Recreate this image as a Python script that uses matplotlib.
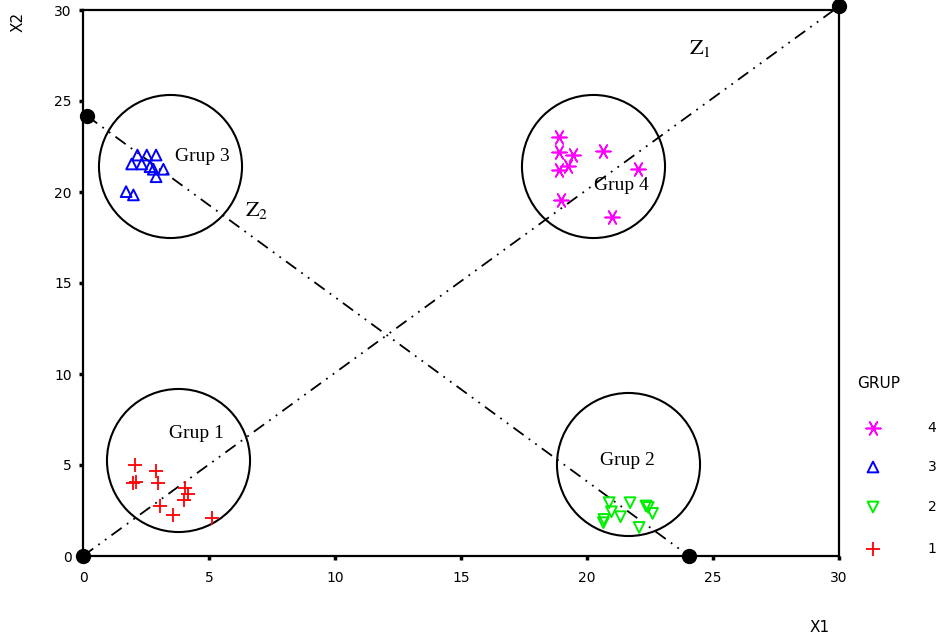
import matplotlib
matplotlib.use("Agg")
import matplotlib.pyplot as plt

plt.rcParams['mathtext.fontset'] = 'stix'

# Data
g1_x = [2.06, 2.88, 2.10, 2.00, 2.96, 4.05, 4.18, 4.02, 3.06, 3.56, 5.10]
g1_y = [5.00, 4.69, 4.08, 4.03, 3.99, 3.72, 3.39, 3.08, 2.75, 2.25, 2.07]
g2_x = [20.88, 21.71, 22.34, 22.43, 20.97, 22.60, 21.33, 20.67, 20.65, 22.07]
g2_y = [2.93, 2.93, 2.75, 2.67, 2.43, 2.34, 2.16, 2.01, 1.83, 1.57]
g3_x = [2.16, 2.53, 2.90, 1.93, 2.33, 2.66, 2.79, 3.19, 2.90, 1.71, 2.00]
g3_y = [22.03, 22.03, 22.03, 21.54, 21.54, 21.39, 21.25, 21.25, 20.84, 20.02, 19.84]
g4_x = [18.90, 18.90, 19.46, 20.62, 18.90, 19.26, 22.04, 18.96, 20.98]
g4_y = [23.00, 22.20, 22.03, 22.27, 21.20, 21.43, 21.25, 19.56, 18.60]

circle_x = [3.77, 21.63, 3.45, 20.24]
circle_y = [5.27, 5.05, 21.43, 21.43]
circle_labels = ["Grup 1", "Grup 2", "Grup 3", "Grup 4"]
label_x = [4.5, 21.6, 4.75, 21.35]
label_y = [6.75, 5.25, 21.95, 20.35]

z1_x = [0.0, 30.0]
z1_y = [0.0, 30.2]
z2_x = [0.16, 24.05]
z2_y = [24.18, 0.0]

ticks = [0, 5, 10, 15, 20, 25, 30]
legend_labels = ['4', '3', '2', '1']

fig = plt.figure(figsize=(9.41, 6.40), dpi=100)
ax = fig.add_axes([83/941, 1-556/640, (839-83)/941, (556-10)/640])
ax.set_xlim(0, 30)
ax.set_ylim(0, 30)

dash = (0, (7, 3.5, 1, 3.5, 1, 3.5))
ax.plot(z1_x, z1_y, color='black', lw=1.3, linestyle=dash, zorder=2)
ax.plot(z2_x, z2_y, color='black', lw=1.3, linestyle=dash, zorder=2)
ax.plot(z1_x, z1_y, 'o', color='black', ms=10, zorder=5, clip_on=False)
ax.plot(z2_x, z2_y, 'o', color='black', ms=10, zorder=5, clip_on=False)

ax.plot(circle_x, circle_y, 'o', ms=103, mfc='none', mec='black', mew=1.5, ls='none', zorder=3)

for t, x, y in zip(circle_labels, label_x, label_y):
    ax.text(x, y, t, fontsize=14, family='Liberation Serif', ha='center', va='center', zorder=6)

ax.text(24.5, 27.9, r'$\mathrm{Z}_1$', fontsize=16, ha='center', va='center')
ax.text(6.9, 19.0, r'$\mathrm{Z}_2$', fontsize=16, ha='center', va='center')

styles = [
    dict(marker=(6, 2, 90), color='#ff00ff', s=110, lw=1.2),
    dict(marker='^', facecolors='none', edgecolors='#0000ff', s=60, lw=1.4),
    dict(marker='v', facecolors='none', edgecolors='#00ee00', s=60, lw=1.4),
    dict(marker='+', color='#ff0000', s=110, lw=1.3),
]
series = [(g4_x, g4_y), (g3_x, g3_y), (g2_x, g2_y), (g1_x, g1_y)]
for (xs, ys), st in zip(series, styles):
    ax.scatter(xs, ys, zorder=4, **st)

for s in ax.spines.values():
    s.set_linewidth(1.6)
ax.set_xticks(ticks)
ax.set_yticks(ticks)
ax.tick_params(direction='out', length=3, width=2.5, labelsize=10)
ax.tick_params(axis='x', pad=8)
ax.tick_params(axis='y', pad=5)

fig.text(18/941, 1-22/640, 'X2', rotation=90, fontsize=11, ha='center', va='center')
fig.text(820/941, 1-627/640, 'X1', fontsize=11, ha='center', va='center')

# Legend drawn manually
fig.text(857/941, 1-384/640, 'GRUP', fontsize=11, ha='left', va='center')
leg_y = [428, 467, 507, 549]
for lab, st, py in zip(legend_labels, styles, leg_y):
    fig_y = 1 - py/640
    ax.scatter([873/941], [fig_y], transform=fig.transFigure, clip_on=False, **st)
    fig.text(932/941, fig_y, lab, fontsize=10, ha='center', va='center')

fig.savefig('out.png', dpi=100)
